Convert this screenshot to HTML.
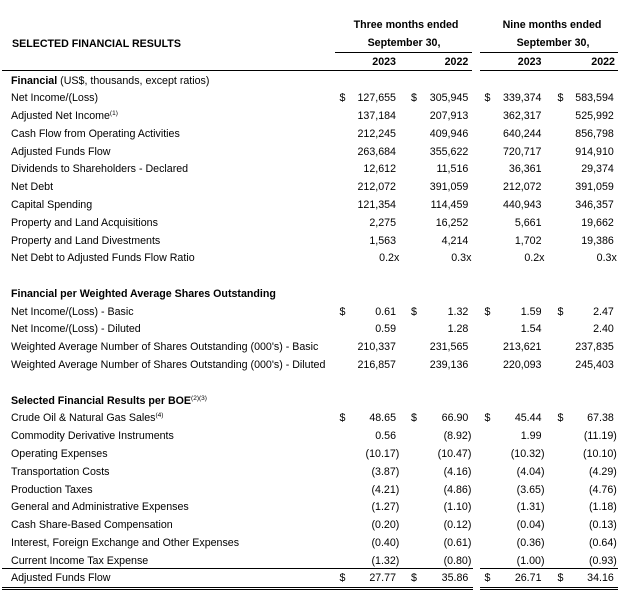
<!DOCTYPE html>
<html>
<head>
<meta charset="utf-8">
<style>
  html, body { margin:0; padding:0; background:#fff; }
  body { width:640px; height:613px; position:relative; overflow:hidden;
         font-family:"Liberation Sans", Arial, sans-serif; font-size:10.67px; color:#000; }
  .r { position:absolute; left:0; width:640px; height:14px; line-height:14px; white-space:nowrap; }
  .r span { position:absolute; top:0; white-space:nowrap; }
  .l { left:11px; }
  .b { font-weight:bold; }
  .d1 { left:339.5px; } .d2 { left:411px; } .d3 { left:484.5px; } .d4 { left:557.5px; }
  .c1 { right:244px; } .c2 { right:171.7px; } .c3 { right:98.5px; } .c4 { right:26.2px; }
  .p1 { right:240.7px; } .p2 { right:168.6px; } .p3 { right:95.5px; } .p4 { right:23.2px; }
  sup { font-size:6.5px; line-height:0; vertical-align:4px; }
  .hl { position:absolute; height:1px; background:#000; }
  .dl { position:absolute; height:0; border-top:3px double #000; }
  .ctr { position:absolute; text-align:center; font-weight:bold; line-height:14px; white-space:nowrap; }
</style>
</head>
<body>

<!-- header -->
<div class="ctr" style="left:336px;width:140px;top:18px;">Three months ended</div>
<div class="ctr" style="left:482px;width:140px;top:18px;">Nine months ended</div>
<div class="ctr" style="left:334px;width:140px;top:36px;">September 30,</div>
<div class="ctr" style="left:483px;width:140px;top:36px;">September 30,</div>
<div class="r" style="top:37px;"><span class="l b" style="left:12px;">SELECTED FINANCIAL RESULTS</span></div>

<div class="hl" style="left:335px;width:137px;top:51.5px;"></div>
<div class="hl" style="left:480px;width:138px;top:51.5px;"></div>

<div class="r b" style="top:55.3px;"><span class="c1">2023</span><span class="c2">2022</span><span class="c3">2023</span><span class="p4" style="right:25px;">2022</span></div>

<div class="hl" style="left:2px;width:470px;top:70px;"></div>
<div class="hl" style="left:480px;width:138px;top:70px;"></div>

<!-- Financial -->
<div class="r" style="top:73.5px;"><span class="l"><b>Financial</b> (US$, thousands, except ratios)</span></div>

<div class="r" style="top:91.3px;"><span class="l">Net Income/(Loss)</span><span class="d1">$</span><span class="c1">127,655</span><span class="d2">$</span><span class="c2">305,945</span><span class="d3">$</span><span class="c3">339,374</span><span class="d4">$</span><span class="c4">583,594</span></div>
<div class="r" style="top:109.1px;"><span class="l">Adjusted Net Income<sup>(1)</sup></span><span class="c1">137,184</span><span class="c2">207,913</span><span class="c3">362,317</span><span class="c4">525,992</span></div>
<div class="r" style="top:126.9px;"><span class="l">Cash Flow from Operating Activities</span><span class="c1">212,245</span><span class="c2">409,946</span><span class="c3">640,244</span><span class="c4">856,798</span></div>
<div class="r" style="top:144.6px;"><span class="l">Adjusted Funds Flow</span><span class="c1">263,684</span><span class="c2">355,622</span><span class="c3">720,717</span><span class="c4">914,910</span></div>
<div class="r" style="top:162.4px;"><span class="l">Dividends to Shareholders - Declared</span><span class="c1">12,612</span><span class="c2">11,516</span><span class="c3">36,361</span><span class="c4">29,374</span></div>
<div class="r" style="top:180.2px;"><span class="l">Net Debt</span><span class="c1">212,072</span><span class="c2">391,059</span><span class="c3">212,072</span><span class="c4">391,059</span></div>
<div class="r" style="top:198px;"><span class="l">Capital Spending</span><span class="c1">121,354</span><span class="c2">114,459</span><span class="c3">440,943</span><span class="c4">346,357</span></div>
<div class="r" style="top:215.8px;"><span class="l">Property and Land Acquisitions</span><span class="c1">2,275</span><span class="c2">16,252</span><span class="c3">5,661</span><span class="c4">19,662</span></div>
<div class="r" style="top:233.5px;"><span class="l">Property and Land Divestments</span><span class="c1">1,563</span><span class="c2">4,214</span><span class="c3">1,702</span><span class="c4">19,386</span></div>
<div class="r" style="top:251.3px;"><span class="l">Net Debt to Adjusted Funds Flow Ratio</span><span class="p1">0.2x</span><span class="p2">0.3x</span><span class="p3">0.2x</span><span class="p4">0.3x</span></div>

<!-- Per share -->
<div class="r" style="top:286.9px;"><span class="l b">Financial per Weighted Average Shares Outstanding</span></div>
<div class="r" style="top:304.7px;"><span class="l">Net Income/(Loss) - Basic</span><span class="d1">$</span><span class="c1">0.61</span><span class="d2">$</span><span class="c2">1.32</span><span class="d3">$</span><span class="c3">1.59</span><span class="d4">$</span><span class="c4">2.47</span></div>
<div class="r" style="top:322.4px;"><span class="l">Net Income/(Loss) - Diluted</span><span class="c1">0.59</span><span class="c2">1.28</span><span class="c3">1.54</span><span class="c4">2.40</span></div>
<div class="r" style="top:340.2px;"><span class="l">Weighted Average Number of Shares Outstanding (000's) - Basic</span><span class="c1">210,337</span><span class="c2">231,565</span><span class="c3">213,621</span><span class="c4">237,835</span></div>
<div class="r" style="top:358px;"><span class="l">Weighted Average Number of Shares Outstanding (000's) - Diluted</span><span class="c1">216,857</span><span class="c2">239,136</span><span class="c3">220,093</span><span class="c4">245,403</span></div>

<!-- Per BOE -->
<div class="r" style="top:393.6px;"><span class="l"><b>Selected Financial Results per BOE</b><sup>(2)(3)</sup></span></div>
<div class="r" style="top:411.3px;"><span class="l">Crude Oil &amp; Natural Gas Sales<sup>(4)</sup></span><span class="d1">$</span><span class="c1">48.65</span><span class="d2">$</span><span class="c2">66.90</span><span class="d3">$</span><span class="c3">45.44</span><span class="d4">$</span><span class="c4">67.38</span></div>
<div class="r" style="top:429.1px;"><span class="l">Commodity Derivative Instruments</span><span class="c1">0.56</span><span class="p2">(8.92)</span><span class="c3">1.99</span><span class="p4">(11.19)</span></div>
<div class="r" style="top:446.9px;"><span class="l">Operating Expenses</span><span class="p1">(10.17)</span><span class="p2">(10.47)</span><span class="p3">(10.32)</span><span class="p4">(10.10)</span></div>
<div class="r" style="top:464.7px;"><span class="l">Transportation Costs</span><span class="p1">(3.87)</span><span class="p2">(4.16)</span><span class="p3">(4.04)</span><span class="p4">(4.29)</span></div>
<div class="r" style="top:482.5px;"><span class="l">Production Taxes</span><span class="p1">(4.21)</span><span class="p2">(4.86)</span><span class="p3">(3.65)</span><span class="p4">(4.76)</span></div>
<div class="r" style="top:500.2px;"><span class="l">General and Administrative Expenses</span><span class="p1">(1.27)</span><span class="p2">(1.10)</span><span class="p3">(1.31)</span><span class="p4">(1.18)</span></div>
<div class="r" style="top:518px;"><span class="l">Cash Share-Based Compensation</span><span class="p1">(0.20)</span><span class="p2">(0.12)</span><span class="p3">(0.04)</span><span class="p4">(0.13)</span></div>
<div class="r" style="top:535.8px;"><span class="l">Interest, Foreign Exchange and Other Expenses</span><span class="p1">(0.40)</span><span class="p2">(0.61)</span><span class="p3">(0.36)</span><span class="p4">(0.64)</span></div>
<div class="r" style="top:553.6px;"><span class="l">Current Income Tax Expense</span><span class="p1">(1.32)</span><span class="p2">(0.80)</span><span class="p3">(1.00)</span><span class="p4">(0.93)</span></div>

<div class="hl" style="left:2px;width:471px;top:568px;"></div>
<div class="hl" style="left:480px;width:138px;top:568px;"></div>

<div class="r" style="top:571.4px;"><span class="l">Adjusted Funds Flow</span><span class="d1">$</span><span class="c1">27.77</span><span class="d2">$</span><span class="c2">35.86</span><span class="d3">$</span><span class="c3">26.71</span><span class="d4">$</span><span class="c4">34.16</span></div>

<div class="dl" style="left:2px;width:471px;top:587px;"></div>
<div class="dl" style="left:480px;width:138px;top:587px;"></div>

</body>
</html>
